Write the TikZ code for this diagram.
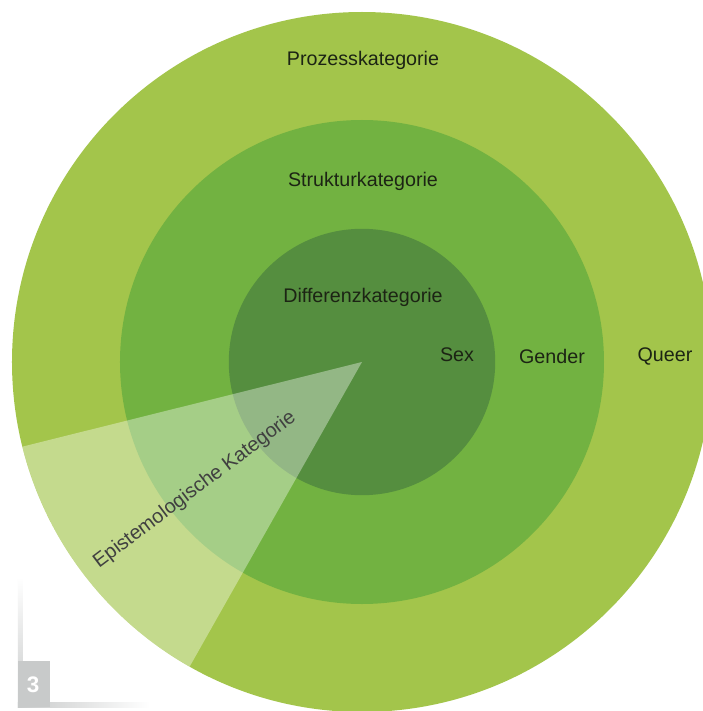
\documentclass[tikz,border=0pt]{standalone}
\usepackage{fontspec}
\setmainfont{Liberation Sans}
\definecolor{prozess}{RGB}{163,197,75}
\definecolor{struktur}{RGB}{114,178,65}
\definecolor{differenz}{RGB}{85,142,63}
\definecolor{labeltext}{RGB}{28,36,20}
\definecolor{cornergray}{RGB}{200,202,202}
\begin{document}
\begin{tikzpicture}
        [ring/.style={draw=none},
        label/.style={font=\fontsize{14}{17}\selectfont, text=labeltext, inner sep=1pt},
        wedgelabel/.style={font=\fontsize{14.2}{17}\selectfont, text=black!75, inner sep=1pt, rotate=37}]
        \clip (-9.05,-8.725) rectangle (8.525,9.05);
        \fill[white] (-9.05,-8.725) rectangle (8.525,9.05);

        % rings
        \fill[ring, prozess] (0,0) circle (8.75);
        \fill[ring, struktur] (0,0) circle (6.05);
        \fill[ring, differenz] (0,0) circle (3.33);

        % epistemological wedge
        \fill[white, opacity=0.37] (0,0) -- (194:8.75) arc[start angle=194, end angle=240.5, radius=8.75] -- cycle;

        \node[label] (P) at (0.025,7.55) {Prozesskategorie};
        \node[label] (S) at (0.025,4.525) {Strukturkategorie};
        \node[label] (D) at (0.025,1.625) {Differenzkategorie};
        \node[label] (sex) at (2.375,0.175) {Sex};
        \node[label] (gender) at (4.75,0.15) {Gender};
        \node[label] (queer) at (7.575,0.15) {Queer};
        \node[wedgelabel] (E) at (-4.18,-3.2) {Epistemologische Kategorie};

        % figure number
        \shade[top color=white, bottom color=cornergray] (-8.6,-5.375) rectangle (-8.475,-8.625);
        \shade[left color=cornergray, right color=white] (-8.6,-8.5) rectangle (-5.3,-8.625);
        \fill[cornergray] (-8.6,-7.475) rectangle (-7.8,-8.625);
        \node[font=\fontsize{16}{18}\selectfont\bfseries, text=white] (num) at (-8.22,-8.07) {3};

    \end{tikzpicture}
\end{document}
